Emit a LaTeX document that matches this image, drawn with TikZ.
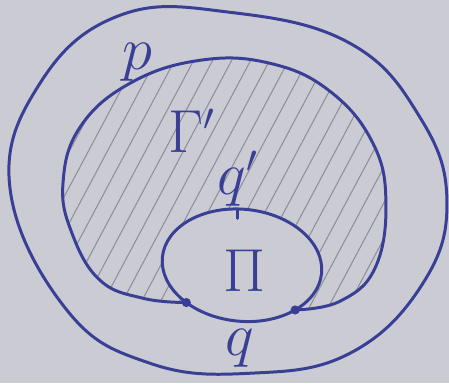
\documentclass[tikz,border=0pt]{standalone}
\usepackage{amsmath}
\definecolor{ink}{HTML}{3A3F96}
\definecolor{paper}{HTML}{CBCBD3}
\definecolor{hatch}{HTML}{8E8E9C}

\begin{document}
\begin{tikzpicture}[x=0.01cm,y=0.01cm,
    every node/.style={font=\fontsize{16}{18}\selectfont,text=ink},
    stroke/.style={draw=ink,line width=0.85pt,line cap=round},
    hatchline/.style={draw=hatch,line width=0.3pt},
    dot/.style={circle,fill=ink,inner sep=0pt,minimum size=2.6pt}]
  \fill[paper] (0,0) rectangle (449,383);
  % inner loop and its two end points
  \coordinate (c) at (242,118);
  \begin{scope}[shift={(c)},rotate=-6]
    \coordinate (dl) at (230:80 and 56);
    \coordinate (dr) at (316:80 and 56);
  \end{scope}
  \coordinate (tick) at (238,173);
  % hatched region
  \begin{scope}
    \clip plot[smooth,tension=0.7] coordinates {(dl) (143,85) (100,103) (72,150) (63,200) (80,256) (130,300) (200,323) (270,320) (330,292) (373,240) (386,180) (375,115) (340,82) (dr)} -- cycle;
    \foreach \i in {-130,-111,...,400}
      \draw[hatchline] (\i,0) -- ++(62:460);
  \end{scope}
  \fill[paper,shift={(c)},rotate=-6] (0,0) ellipse [x radius=80,y radius=56];
  \draw[stroke,shift={(c)},rotate=-6] (0,0) ellipse [x radius=80,y radius=56];
  % p
  \draw[stroke] plot[smooth,tension=0.7] coordinates {(dl) (143,85) (100,103) (72,150) (63,200) (80,256) (130,300) (200,323) (270,320) (330,292) (373,240) (386,180) (375,115) (340,82) (dr)};
  % outer loop
  \draw[stroke] plot[smooth cycle,tension=0.7] coordinates {(10,195) (40,300) (120,368) (230,371) (350,340) (420,266) (447,183) (423,100) (350,30) (250,10) (150,20) (67,73)};
  \node[dot] (ldot) at (dl) {};
  \node[dot] (rdot) at (dr) {};
  \node (plab) at (137,321) {$p$};
  \node (glab) at (192,252) {$\Gamma'$};
  \node (qplab) at (238,205) {$q'$};
  \draw[stroke] (qplab) -- (tick);
  \node (pilab) at (245,113) {$\Pi$};
  \node (qlab) at (240,35) {$q$};
\end{tikzpicture}
\end{document}
